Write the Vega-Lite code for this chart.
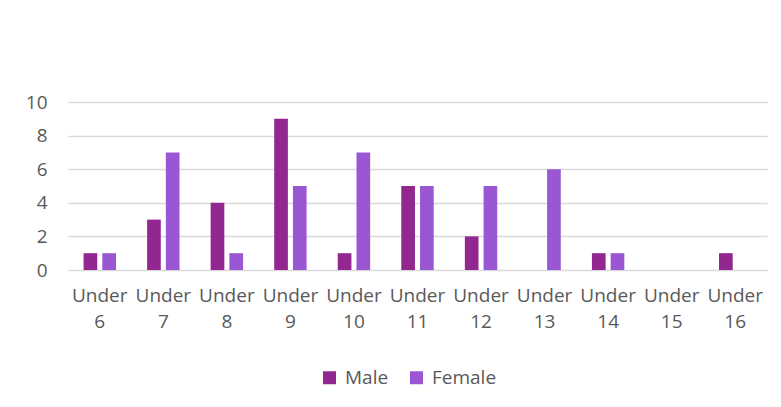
{
  "$schema": "https://vega.github.io/schema/vega-lite/v6.json",
  "width": 699,
  "height": 168,
  "autosize": {"type": "none"},
  "padding": {"left": 68, "top": 102, "right": 14, "bottom": 137},
  "background": "white",
  "data": {
    "values": [
      {"age": "Under 6", "sex": "Male", "count": 1},
      {"age": "Under 6", "sex": "Female", "count": 1},
      {"age": "Under 7", "sex": "Male", "count": 3},
      {"age": "Under 7", "sex": "Female", "count": 7},
      {"age": "Under 8", "sex": "Male", "count": 4},
      {"age": "Under 8", "sex": "Female", "count": 1},
      {"age": "Under 9", "sex": "Male", "count": 9},
      {"age": "Under 9", "sex": "Female", "count": 5},
      {"age": "Under 10", "sex": "Male", "count": 1},
      {"age": "Under 10", "sex": "Female", "count": 7},
      {"age": "Under 11", "sex": "Male", "count": 5},
      {"age": "Under 11", "sex": "Female", "count": 5},
      {"age": "Under 12", "sex": "Male", "count": 2},
      {"age": "Under 12", "sex": "Female", "count": 5},
      {"age": "Under 13", "sex": "Male", "count": 0},
      {"age": "Under 13", "sex": "Female", "count": 6},
      {"age": "Under 14", "sex": "Male", "count": 1},
      {"age": "Under 14", "sex": "Female", "count": 1},
      {"age": "Under 15", "sex": "Male", "count": 0},
      {"age": "Under 15", "sex": "Female", "count": 0},
      {"age": "Under 16", "sex": "Male", "count": 1},
      {"age": "Under 16", "sex": "Female", "count": 0}
    ]
  },
  "mark": {"type": "bar"},
  "encoding": {
    "x": {
      "field": "age",
      "type": "nominal",
      "sort": null,
      "scale": {"paddingInner": 0.49, "paddingOuter": 0.245},
      "axis": {
        "title": null,
        "labelAngle": 0,
        "labelExpr": "split(datum.label, ' ')",
        "labelLineHeight": 26,
        "labelBaseline": "top",
        "labelPadding": 16,
        "ticks": false,
        "domain": false,
        "labelFont": "Open Sans",
        "labelFontSize": 19,
        "labelColor": "#595959"
      }
    },
    "xOffset": {
      "field": "sex",
      "type": "nominal",
      "sort": ["Male", "Female"],
      "scale": {"paddingInner": 0.27, "paddingOuter": 0}
    },
    "y": {
      "field": "count",
      "type": "quantitative",
      "scale": {"domain": [0, 10], "nice": false},
      "axis": {
        "title": null,
        "values": [0, 2, 4, 6, 8, 10],
        "ticks": false,
        "domain": false,
        "labelPadding": 21,
        "labelFont": "Open Sans",
        "labelFontSize": 19,
        "labelColor": "#595959",
        "gridColor": "#d9d9d9",
        "gridWidth": 1.5
      }
    },
    "color": {
      "field": "sex",
      "type": "nominal",
      "sort": ["Male", "Female"],
      "scale": {"domain": ["Male", "Female"], "range": ["#92278F", "#9B57D3"]},
      "legend": {
        "title": null,
        "orient": "none",
        "direction": "horizontal",
        "legendX": 252,
        "legendY": 266,
        "padding": 0,
        "symbolType": "square",
        "symbolSize": 169,
        "symbolStrokeWidth": 0,
        "labelFont": "Open Sans",
        "labelFontSize": 19,
        "labelColor": "#595959",
        "labelOffset": 6,
        "columnPadding": 18
      }
    }
  },
  "config": {"view": {"stroke": null}}
}
